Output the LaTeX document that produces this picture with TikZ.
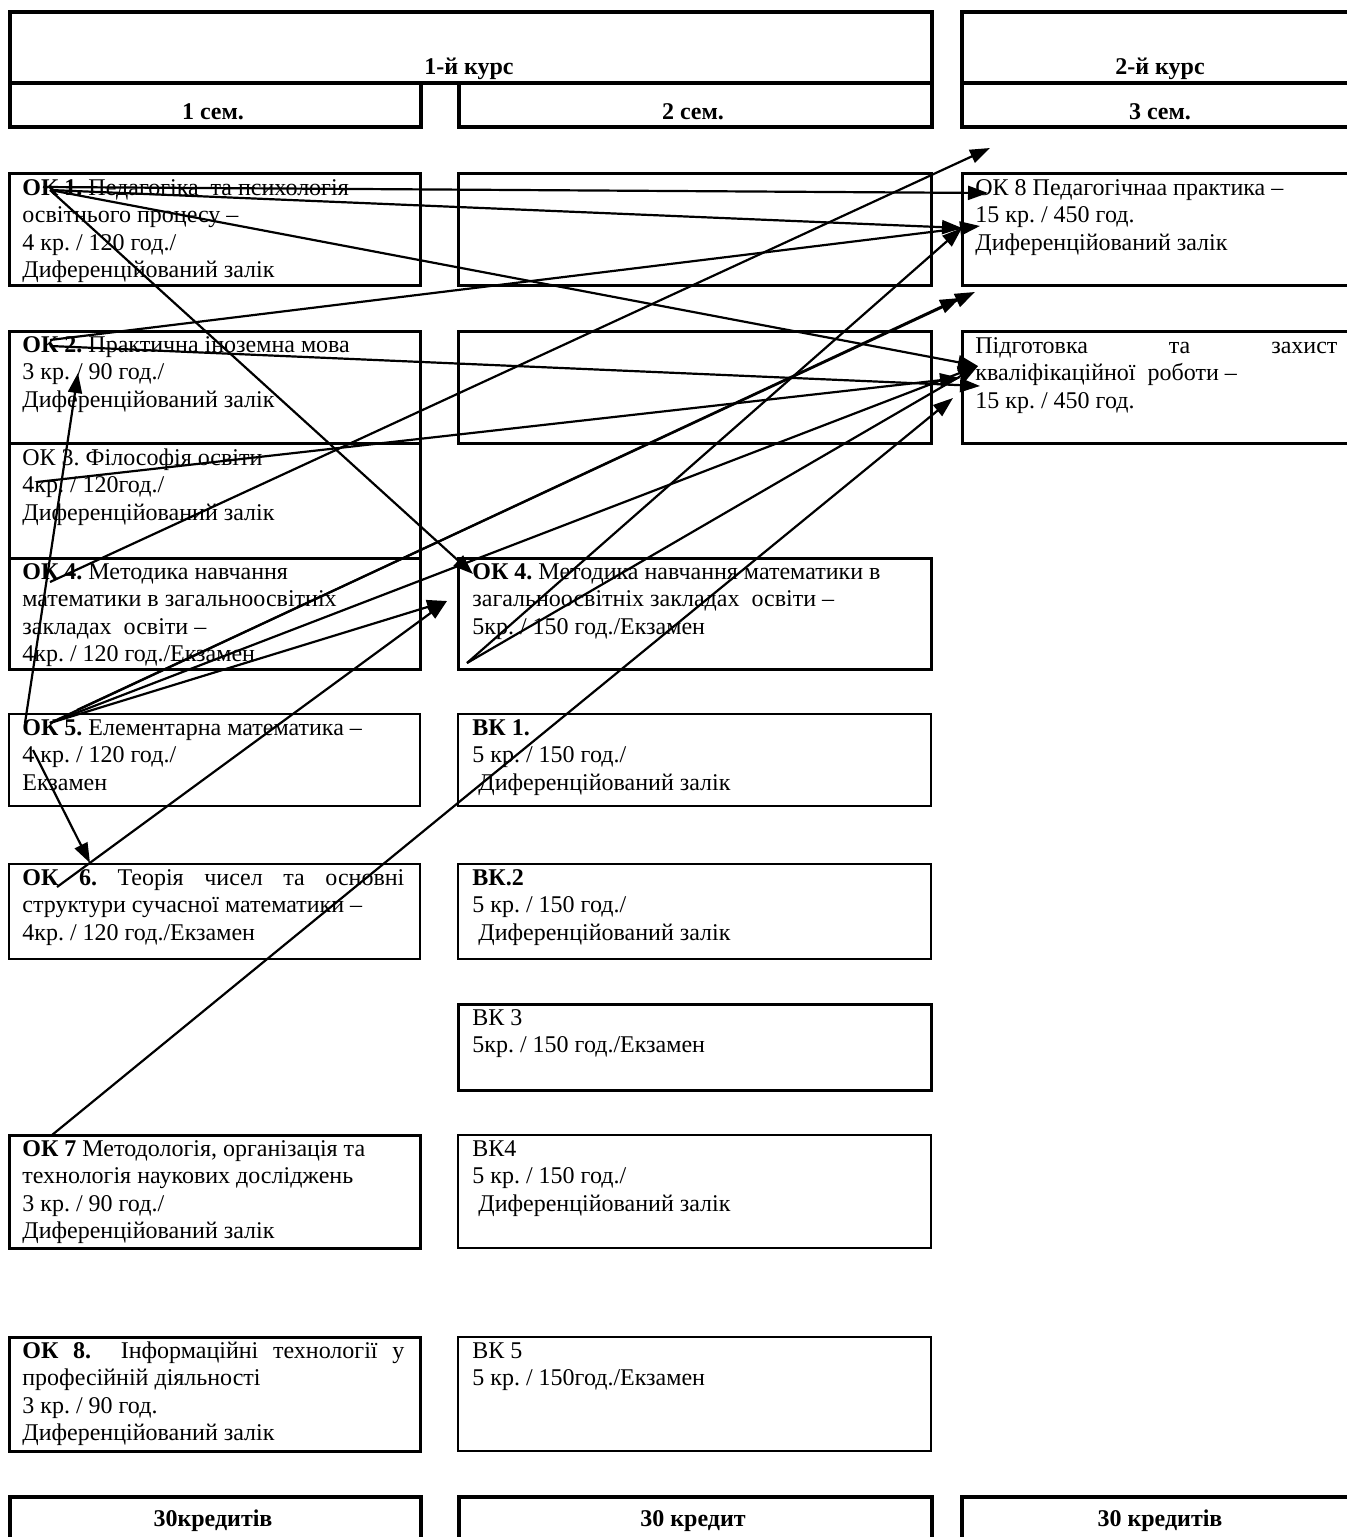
\documentclass[tikz,border=0pt]{standalone}
\usepackage{fontspec}
\setmainfont{Liberation Serif}
\usetikzlibrary{arrows.meta}
\newcommand{\tl}[1]{\vtop{\halign{##\hfil\cr#1\crcr}}}
\begin{document}
\begin{tikzpicture}[x=0.5pt,y=-0.5pt,
  box/.style={draw, line width=1.6pt, anchor=north west, inner sep=0pt},
  midbox/.style={draw, line width=1.2pt, anchor=north west, inner sep=0pt},
  thinbox/.style={draw, line width=0.8pt, anchor=north west, inner sep=0pt},
  txt/.style={anchor=base west, inner sep=0pt, font=\fontsize{12}{13.8}\selectfont\frenchspacing},
  head/.style={anchor=base, inner sep=0pt, font=\fontsize{12}{13.8}\selectfont\bfseries},
  conn/.style={line width=1.1pt, -{Triangle[length=10pt,width=7pt]}}
]
\useasboundingbox (0,0) rectangle (1346,1537);

% header boxes
\node[box, line width=2pt, minimum width=461pt, minimum height=35.5pt] (hdr1) at (8,10) {};
\node[box, line width=2pt, minimum width=200pt, minimum height=35.5pt] (hdr2) at (960,10) {};
\node[box, line width=2pt, minimum width=205.5pt, minimum height=22pt] (sem1) at (8,81) {};
\node[box, line width=2pt, minimum width=236.5pt, minimum height=22pt] (sem2) at (457,81) {};
\node[box, line width=2pt, minimum width=200pt, minimum height=22pt] (sem3) at (960,81) {};
\node[head] (hdr1t) at (469,74) {1-й курс};
\node[head] (hdr2t) at (1160,74) {2-й курс};
\node[head] (sem1t) at (213,119) {1 сем.};
\node[head] (sem2t) at (693,119) {2 сем.};
\node[head] (sem3t) at (1160,119) {3 сем.};

% left column
\node[box, minimum width=205.5pt, minimum height=56pt] (ok1) at (8,172) {};
\node[box, minimum width=205.5pt, minimum height=56pt] (ok2) at (8,330) {};
\node[box, minimum width=205.5pt, minimum height=57.5pt] (ok3) at (8,442) {};
\node[box, minimum width=205.5pt, minimum height=55.5pt] (ok4) at (8,557) {};
\node[midbox, minimum width=205.5pt, minimum height=46pt] (ok5) at (8,713) {};
\node[midbox, minimum width=205.5pt, minimum height=47.5pt] (ok6) at (8,863) {};
\node[box, minimum width=205.5pt, minimum height=56.5pt] (ok7) at (8,1134) {};
\node[box, minimum width=205.5pt, minimum height=57pt] (ok8) at (8,1336) {};

% middle column
\node[box, minimum width=236.5pt, minimum height=56pt] (e1) at (457,172) {};
\node[box, minimum width=236.5pt, minimum height=56pt] (e2) at (457,330) {};
\node[box, minimum width=236.5pt, minimum height=55.5pt] (m4) at (457,557) {};
\node[thinbox, minimum width=236.5pt, minimum height=46pt] (vk1) at (457,713) {};
\node[thinbox, minimum width=236.5pt, minimum height=47.5pt] (vk2) at (457,863) {};
\node[box, minimum width=236.5pt, minimum height=43pt] (vk3) at (457,1003) {};
\node[thinbox, minimum width=236.5pt, minimum height=56.5pt] (vk4) at (457,1134) {};
\node[thinbox, minimum width=236.5pt, minimum height=57pt] (vk5) at (457,1336) {};

% right column
\node[box, minimum width=199.5pt, minimum height=56pt] (r1) at (961,172) {};
\node[box, minimum width=199.5pt, minimum height=56pt] (r2) at (961,330) {};

% bottom boxes
\node[box, line width=2pt, minimum width=205.5pt, minimum height=35pt] (b1) at (8,1495) {};
\node[box, line width=2pt, minimum width=236.5pt, minimum height=35pt] (b2) at (457,1495) {};
\node[box, line width=2pt, minimum width=200pt, minimum height=35pt] (b3) at (960,1495) {};
\node[head] (b1t) at (213,1526) {30кредитів};
\node[head] (b2t) at (693,1526) {30 кредит};
\node[head] (b3t) at (1160,1526) {30 кредитів};

% texts
\node[txt] (ok1t) at (22,195) {\tl{\textbf{ОК 1.} Педагогіка\ \ та психологія\cr освітнього процесу –\cr 4 кр. / 120 год./\cr Диференційований залік}};
\node[txt] (ok2t) at (22,352) {\tl{\textbf{ОК 2.} Практична іноземна мова\cr 3 кр. / 90 год./\cr Диференційований залік}};
\node[txt] (ok3t) at (22,465) {\tl{ОК 3. Філософія освіти\cr 4кр. / 120год./\cr Диференційований залік}};
\node[txt] (ok4t) at (22,579) {\tl{\textbf{ОК 4.} Методика навчання\cr математики в загальноосвітніх\cr закладах\ \ освіти –\cr 4кр. / 120 год./Екзамен}};
\node[txt] (ok5t) at (22,735) {\tl{\textbf{ОК 5.} Елементарна математика –\cr 4 кр. / 120 год./\cr Екзамен}};
\node[txt] (ok6t) at (22,885) {\tl{\makebox[191pt][s]{\textbf{ОК 6.} Теорія чисел та основні}\cr структури сучасної математики –\cr 4кр. / 120 год./Екзамен}};
\node[txt] (ok7t) at (22,1156) {\tl{\textbf{ОК 7} Методологія, організація та\cr технологія наукових досліджень\cr 3 кр. / 90 год./\cr Диференційований залік}};
\node[txt] (ok8t) at (22,1358) {\tl{\makebox[191pt][s]{\textbf{ОК 8.}\ \ Інформаційні технології у}\cr професійній діяльності\cr 3 кр. / 90 год.\cr Диференційований залік}};
\node[txt] (m4t) at (472,579) {\tl{\textbf{ОК 4.} Методика навчання математики в\cr загальноосвітніх закладах\ \ освіти –\cr 5кр. / 150 год./Екзамен}};
\node[txt] (vk1t) at (472,735) {\tl{\textbf{ВК 1.}\cr 5 кр. / 150 год./\cr \hspace*{3pt}Диференційований залік}};
\node[txt] (vk2t) at (472,885) {\tl{\textbf{ВК.2}\cr 5 кр. / 150 год./\cr \hspace*{3pt}Диференційований залік}};
\node[txt] (vk3t) at (472,1025) {\tl{ВК 3\cr 5кр. / 150 год./Екзамен}};
\node[txt] (vk4t) at (472,1156) {\tl{ВК4\cr 5 кр. / 150 год./\cr \hspace*{3pt}Диференційований залік}};
\node[txt] (vk5t) at (472,1358) {\tl{ВК 5\cr 5 кр. / 150год./Екзамен}};
\node[txt] (r1t) at (975,195) {\tl{ОК 8 Педагогічнаа практика –\cr 15 кр. / 450 год.\cr Диференційований залік}};
\node[txt] (r2t) at (975,353) {\tl{\makebox[181pt][s]{Підготовка та захист}\cr кваліфікаційної\ \ роботи –\cr 15 кр. / 450 год.}};

% connector end points
\coordinate (ok1a) at (43,187);
\coordinate (ok1b) at (50,190);
\coordinate (ok2a) at (50,340);
\coordinate (ok2b) at (50,346);
\coordinate (ok3a) at (37,482);
\coordinate (ok4a) at (50,582);
\coordinate (ok5a) at (25,723);
\coordinate (ok5b) at (33,750);
\coordinate (ok5c) at (50,723);
\coordinate (ok5d) at (77,710);
\coordinate (ok6a) at (57,887);
\coordinate (m4a) at (467,663);
\coordinate (ok7a) at (52,1135);
\coordinate (r1a) at (988,193);
\coordinate (r1b) at (962,228);
\coordinate (r1c) at (980,226);
\coordinate (gapa) at (990,148);
\coordinate (gapb) at (975,292);
\coordinate (gapc) at (960,298);
\coordinate (r2a) at (978,366);
\coordinate (r2b) at (960,378);
\coordinate (r2c) at (980,386);
\coordinate (r2d) at (953,398);
\coordinate (m4p) at (473,574);
\coordinate (m4l) at (447,601);
\coordinate (ok2p) at (78,373);
\coordinate (ok6p) at (90,863);

% connectors
\draw[conn] (ok1a) -- (r1a);
\draw[conn] (ok1b) -- (r1b);
\draw[conn] (ok1b) -- (r2a);
\draw[conn] (ok1b) -- (m4p);
\draw[conn] (ok2a) -- (r1c);
\draw[conn] (ok2b) -- (r2c);
\draw[conn] (ok3a) -- (r2b);
\draw[conn] (ok4a) -- (gapa);
\draw[conn] (ok5a) -- (ok2p);
\draw[conn] (ok5b) -- (ok6p);
\draw[conn] (ok5c) -- (m4l);
\draw[conn] (ok5d) -- (gapb);
\draw[conn] (ok5c) -- (gapc);
\draw[conn] (ok5c) -- (r2a);
\draw[conn] (ok6a) -- (m4l);
\draw[conn] (m4a) -- (r1b);
\draw[conn] (m4a) -- (r2a);
\draw[conn] (ok7a) -- (r2d);
\end{tikzpicture}
\end{document}
